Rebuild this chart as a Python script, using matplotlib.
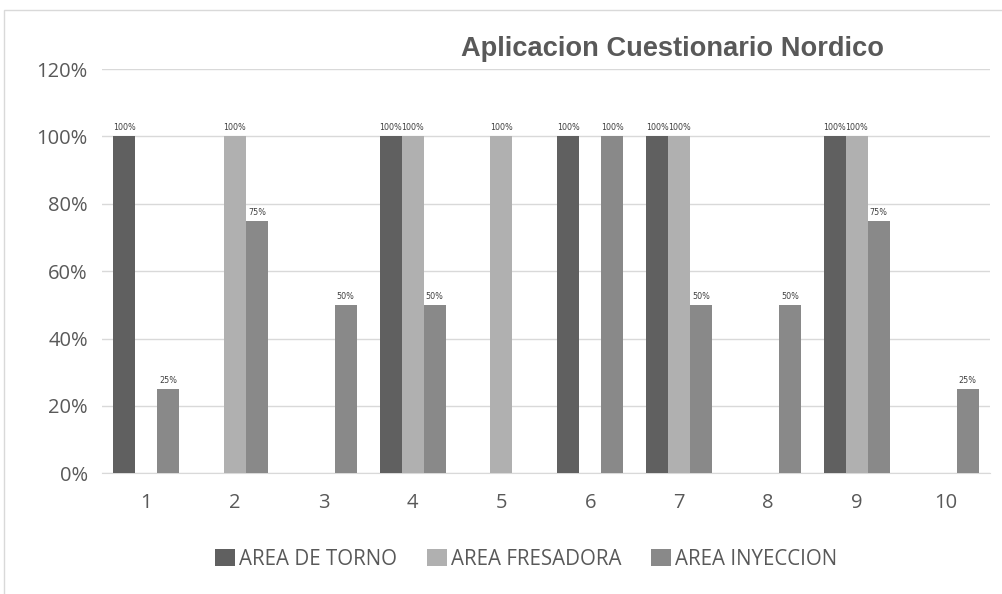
import matplotlib.pyplot as plt
from matplotlib import font_manager
from matplotlib.patches import Rectangle
import numpy as np

categories = ['1', '2', '3', '4', '5', '6', '7', '8', '9', '10']
torno = [100, 0, 0, 100, 0, 100, 100, 0, 100, 0]
fresadora = [0, 100, 0, 100, 100, 0, 100, 0, 100, 0]
inyeccion = [25, 75, 50, 50, 0, 100, 50, 50, 75, 25]
series_names = ['AREA DE TORNO', 'AREA FRESADORA', 'AREA INYECCION']
colors = ['#606060', '#b0b0b0', '#898989']

plt.rcParams['font.family'] = ['Open Sans', 'DejaVu Sans']

installed = {f.name for f in font_manager.fontManager.ttflist}
if 'Liberation Sans Narrow' in installed:
    title_font, title_size = 'Liberation Sans Narrow', 23
else:
    title_font, title_size = 'Liberation Sans', 19.6

fig = plt.figure(figsize=(10.03, 5.94), dpi=100)
ax = fig.add_axes([0.1014, 0.2032, 0.8857, 0.6806])

# chart frame
fig.patches.append(Rectangle((4 / 1003, -0.05), 1.1, 1 - 10 / 594 + 0.05,
                             transform=fig.transFigure, fill=False,
                             edgecolor='#d9d9d9', linewidth=1))

x = np.arange(1, len(categories) + 1)
w = 0.247
for i, vals in enumerate([torno, fresadora, inyeccion]):
    pos = x + (i - 1) * w
    bars = ax.bar(pos, vals, w, color=colors[i], label=series_names[i], zorder=3)
    for b, v in zip(bars, vals):
        if v > 0:
            ax.text(b.get_x() + b.get_width() / 2, v + 1.2, '%d%%' % v,
                    ha='center', va='bottom', fontsize=5.8, color='#404040',
                    family='DejaVu Sans')

ax.set_xlim(0.5, 10.5)
ax.set_ylim(0, 120)
ax.set_yticks(range(0, 121, 20))
ax.set_yticklabels(['%d%%' % t for t in range(0, 121, 20)])
ax.set_xticks(x)
ax.set_xticklabels(categories)
ax.tick_params(length=0, labelsize=14.5, labelcolor='#595959')
ax.tick_params(axis='x', pad=14)
ax.tick_params(axis='y', pad=10)
ax.grid(axis='y', color='#d9d9d9', linewidth=1, zorder=0)
for s in ['top', 'right', 'left']:
    ax.spines[s].set_visible(False)
ax.spines['bottom'].set_color('#d9d9d9')

fig.text(0.67, 0.918, 'Aplicacion Cuestionario Nordico', ha='center', va='center',
         fontsize=title_size, fontweight='bold', color='#595959', family=title_font)

fig.legend(loc='center', bbox_to_anchor=(0.5245, 0.058), ncol=3, frameon=False,
           fontsize=14.8, handlelength=0.97, handleheight=0.9, handletextpad=0.2,
           columnspacing=1.45, labelcolor='#595959')

fig.savefig('out.png', dpi=100)
